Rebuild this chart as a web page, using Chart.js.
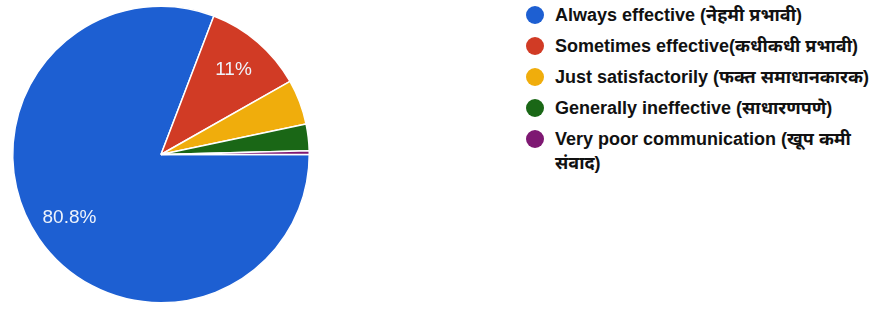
<!DOCTYPE html>
<html>
<head>
<meta charset="utf-8">
<script src="https://cdn.jsdelivr.net/npm/chart.js@4.4.0/dist/chart.umd.min.js"></script>
<style>
  html, body { margin: 0; padding: 0; background: #fff; }
  #wrap { position: relative; width: 887px; height: 309px; overflow: hidden; }
  #pieBox { position: absolute; left: 0; top: 0; width: 322px; height: 309px; }
  #legend { position: absolute; left: 526px; top: 3px; width: 360px; }
  #legend ul { list-style: none; margin: 0; padding: 0; }
  #legend li {
    display: flex; align-items: flex-start; margin-bottom: 7px;
    font-family: "Liberation Sans", Arial, "Noto Sans", sans-serif;
    font-weight: bold; font-size: 18px; line-height: 24px; color: #111;
  }
  #legend .dot { flex: none; width: 18px; height: 18px; border-radius: 50%; margin: 3px 11px 0 0; }
  #legend .txt { max-width: 330px; }
</style>
</head>
<body>
<div id="wrap">
  <div id="pieBox"><canvas id="pie"></canvas></div>
  <div id="legend"></div>
</div>
<script>
// data
const categories = [
  "Always effective (नेहमी प्रभावी)",
  "Sometimes effective(कधीकधी प्रभावी)",
  "Just satisfactorily (फक्त समाधानकारक)",
  "Generally ineffective (साधारणपणे)",
  "Very poor communication (खूप कमी संवाद)"
];
const shares = [80.8, 11, 4.9, 2.9, 0.4];
const sliceColors = ["#1d5fd2", "#d13b25", "#f0ad0c", "#1a6716", "#7e1872"];

/**
 * Writes percentage labels inside the large slices
 */
const sliceLabels = {
  id: "sliceLabels",
  afterDatasetsDraw(chart) {
    const ctx = chart.ctx;
    const meta = chart.getDatasetMeta(0);
    ctx.save();
    ctx.font = "19px 'Liberation Sans', Arial, sans-serif";
    ctx.fillStyle = "#eef3fb";
    ctx.textAlign = "center";
    ctx.textBaseline = "middle";
    meta.data.forEach((arc, i) => {
      if (shares[i] < 10) return;
      const p = arc.getProps(["x", "y", "startAngle", "endAngle", "outerRadius"], true);
      const mid = (p.startAngle + p.endAngle) / 2;
      const r = p.outerRadius * 0.75;
      ctx.fillText(shares[i] + "%", p.x + Math.cos(mid) * r, p.y + Math.sin(mid) * r);
    });
    ctx.restore();
  }
};

/**
 * Builds the legend as html from the chart data
 */
const htmlLegend = {
  id: "htmlLegend",
  afterUpdate(chart) {
    const box = document.getElementById("legend");
    const ds = chart.data.datasets[0];
    box.innerHTML = "<ul>" + chart.data.labels.map((lab, i) => `
      <li><span class="dot" style="background:${ds.backgroundColor[i]}"></span>
      <span class="txt">${lab}</span></li>`).join("") + "</ul>";
  }
};

new Chart(document.getElementById("pie"), {
  type: "pie",
  data: {
    labels: categories,
    datasets: [{
      data: shares,
      backgroundColor: sliceColors,
      borderColor: "#ffffff",
      borderWidth: 1.5,
    }],
  },
  options: {
    responsive: true,
    maintainAspectRatio: false,
    animation: false,
    rotation: 90,
    layout: { padding: { top: 4, bottom: 4, left: 12, right: 12 } },
    plugins: {
      legend: { display: false },
      tooltip: { enabled: false },
    },
  },
  plugins: [sliceLabels, htmlLegend],
});
</script>
</body>
</html>
